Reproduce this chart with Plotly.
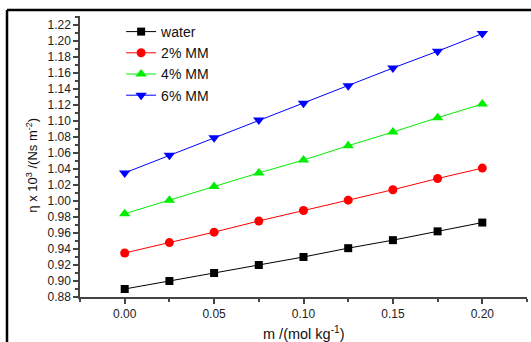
import plotly.graph_objects as go

m = [0.000, 0.025, 0.050, 0.075, 0.100, 0.125, 0.150, 0.175, 0.200]
water = [0.890, 0.900, 0.910, 0.920, 0.930, 0.941, 0.951, 0.962, 0.973]
mm2 = [0.935, 0.948, 0.961, 0.975, 0.988, 1.001, 1.014, 1.028, 1.041]
mm4 = [0.984, 1.001, 1.018, 1.035, 1.051, 1.069, 1.086, 1.104, 1.121]
mm6 = [1.035, 1.057, 1.079, 1.101, 1.122, 1.144, 1.166, 1.187, 1.209]

names = ["water", "2% MM", "4% MM", "6% MM"]
colors = ["#000000", "#ff0000", "#00ee00", "#0000ff"]
symbols = ["square", "circle", "triangle-up", "triangle-down"]
sizes = [8, 9, 10, 10]

fig = go.Figure()
for ys, nm, c, s, sz in zip([water, mm2, mm4, mm6], names, colors, symbols, sizes):
    fig.add_trace(go.Scatter(
        x=m, y=ys, name=nm, mode="lines+markers",
        line=dict(color=c, width=1),
        marker=dict(symbol=s, size=sz, color=c, line=dict(width=0)),
    ))

axis_font = dict(family="Liberation Sans, Arial, sans-serif", size=12, color="#222")
fig.update_layout(
    width=531, height=342,
    margin=dict(l=80, r=4, t=16, b=45),
    paper_bgcolor="white", plot_bgcolor="white",
    font=dict(family="Liberation Sans, Arial, sans-serif", color="#111"),
    showlegend=True,
    legend=dict(x=0.092, y=1.0, xanchor="left", yanchor="top",
                bgcolor="rgba(0,0,0,0)", font=dict(size=14, color="#111"),
                itemwidth=30, tracegroupgap=0),
    xaxis=dict(
        range=[-0.025, 0.225], tickvals=[0.0, 0.05, 0.10, 0.15, 0.20],
        ticktext=["0.00", "0.05", "0.10", "0.15", "0.20"],
        showgrid=False, zeroline=False, showline=True, linecolor="#444", linewidth=1.5,
        ticks="outside", ticklen=5, tickcolor="#444", tickwidth=1.5,
        minor=dict(dtick=0.025, tick0=0, ticklen=3, tickcolor="#444", ticks="outside", showgrid=False),
        tickfont=axis_font, automargin=False,
    ),
    yaxis=dict(
        range=[0.88, 1.231], dtick=0.02, tick0=0.88, tickformat=".2f",
        showgrid=False, zeroline=False, showline=True, linecolor="#444", linewidth=1.5,
        ticks="outside", ticklen=5, tickcolor="#444", tickwidth=1.5,
        minor=dict(dtick=0.01, tick0=0.88, ticklen=3, tickcolor="#444", ticks="outside", showgrid=False),
        tickfont=axis_font, automargin=False,
    ),
)

# axis titles
fig.add_annotation(text="m /(mol kg<sup>-1</sup>)", xref="paper", yref="paper",
                   x=0.5, y=-0.128, xanchor="center", yanchor="middle", showarrow=False,
                   font=dict(size=14.5, color="#111"))
fig.add_annotation(text="η x 10<sup>3</sup> /(Ns m<sup>-2</sup>)", xref="paper", yref="paper",
                   x=-0.108, y=0.47, xanchor="center", yanchor="middle", showarrow=False,
                   textangle=-90, font=dict(size=13, color="#111"))

# outer frame (left and top edges visible)
fig.add_shape(type="line", xref="paper", yref="paper",
              x0=(7 - 80) / 447, x1=1.2, y0=1 + (16 - 10) / 281, y1=1 + (16 - 10) / 281,
              line=dict(color="black", width=2.5))
fig.add_shape(type="line", xref="paper", yref="paper",
              x0=(7 - 80) / 447, x1=(7 - 80) / 447, y0=1 + (16 - 10) / 281, y1=-0.3,
              line=dict(color="black", width=2.5))

fig.write_html("out.html", config={"displayModeBar": False})

with open("out.html", "r", encoding="utf-8") as f:
    html = f.read()
html = html.replace("<head>", "<head><style>html,body{margin:0;padding:0;overflow:hidden;}</style>", 1)
with open("out.html", "w", encoding="utf-8") as f:
    f.write(html)
